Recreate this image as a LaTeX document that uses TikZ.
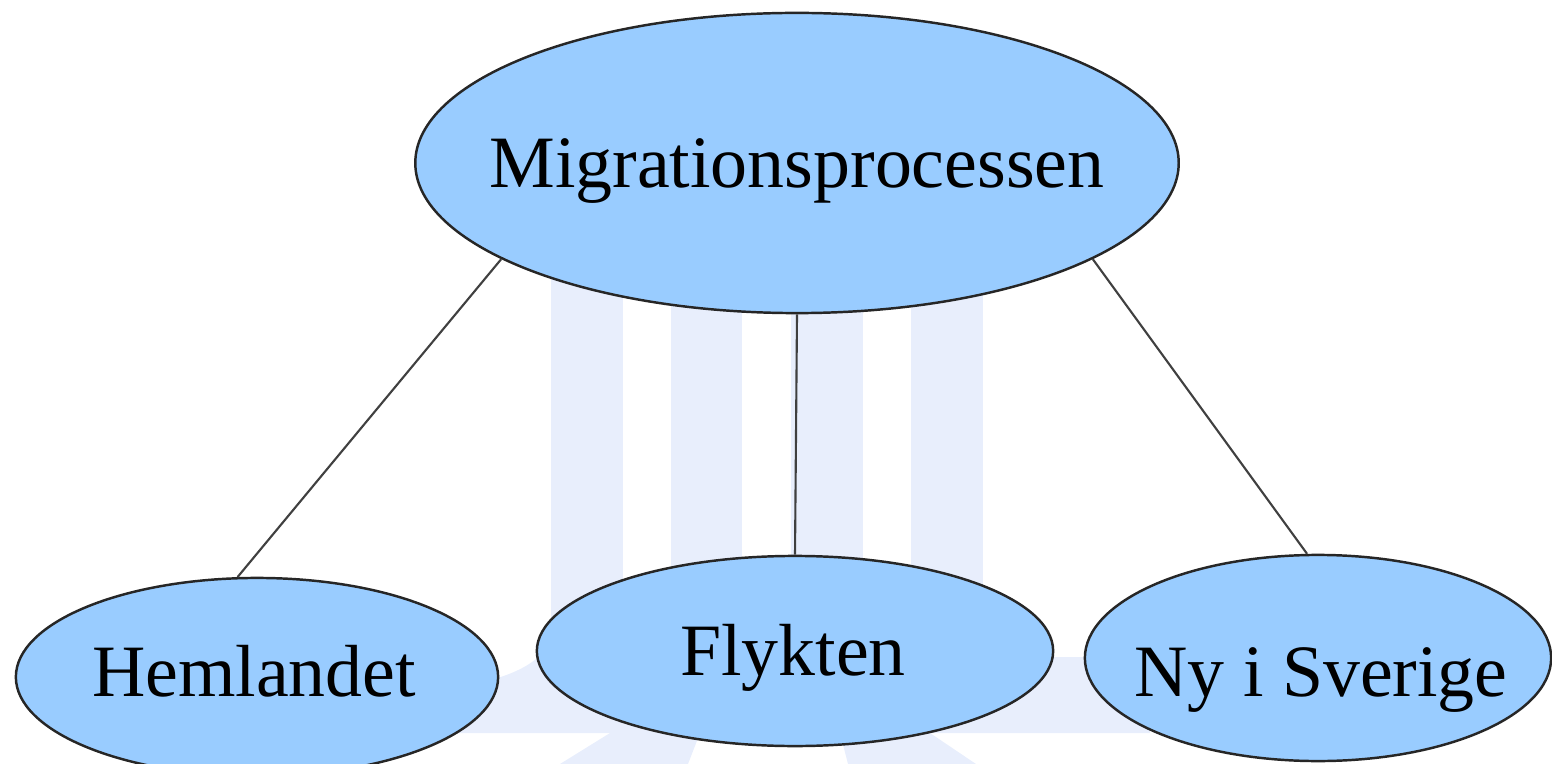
\documentclass[tikz,border=0pt]{standalone}
\usepackage{fontspec}
\setmainfont{Liberation Serif}
\usetikzlibrary{shapes.geometric}
\definecolor{nodefill}{RGB}{153,204,255}
\definecolor{wmark}{RGB}{232,238,252}
\tikzset{
  bubble/.style={ellipse, draw=black!85, line width=0.7pt, fill=nodefill, inner sep=0pt},
  txt/.style={anchor=base, inner sep=0pt, font=\fontsize{21}{25}\selectfont, text=black},
  link/.style={draw=black!75, line width=0.6pt},
  wm/.style={fill=wmark, draw=none}
}
\begin{document}
\begin{tikzpicture}[x=0.01cm, y=-0.01cm]
\useasboundingbox (0,0) rectangle (1552,764);
% faint watermark
\fill[wm] (551,260) rectangle (623,700);
\fill[wm] (671,260) rectangle (742,700);
\fill[wm] (791,260) rectangle (863,700);
\fill[wm] (911,260) rectangle (983,700);
\fill[wm] (440,733) -- (440,690) .. controls (500,682) and (551,665) .. (551,630) -- (983,630)
  .. controls (983,650) and (990,657) .. (1010,657) -- (1150,657) -- (1150,733) -- cycle;
\fill[wm] (610,733) -- (700,733) -- (688,764) -- (560,764) -- cycle;
\fill[wm] (840,733) -- (930,733) -- (976,764) -- (848,764) -- cycle;
% nodes
\node[bubble, minimum width=7.63cm, minimum height=3.0cm] (M) at (797,163) {};
\node[bubble, minimum width=4.82cm, minimum height=1.98cm] (H) at (257,677) {};
\node[bubble, minimum width=5.16cm, minimum height=1.90cm] (F) at (795,651) {};
\node[bubble, minimum width=4.66cm, minimum height=2.06cm] (N) at (1318,658) {};
\node[txt] (Mt) at (797,188) {Migrationsprocessen};
\node[txt] (Ht) at (254,696) {Hemlandet};
\node[txt] (Ft) at (793,675) {Flykten};
\node[txt] (Nt) at (1321,696) {Ny i Sverige};
% connectors
\draw[link] (M.198.5) -- (H.101);
\draw[link] (M.south) -- (F.north);
\draw[link] (M.342.6) -- (N.96);
\end{tikzpicture}
\end{document}
